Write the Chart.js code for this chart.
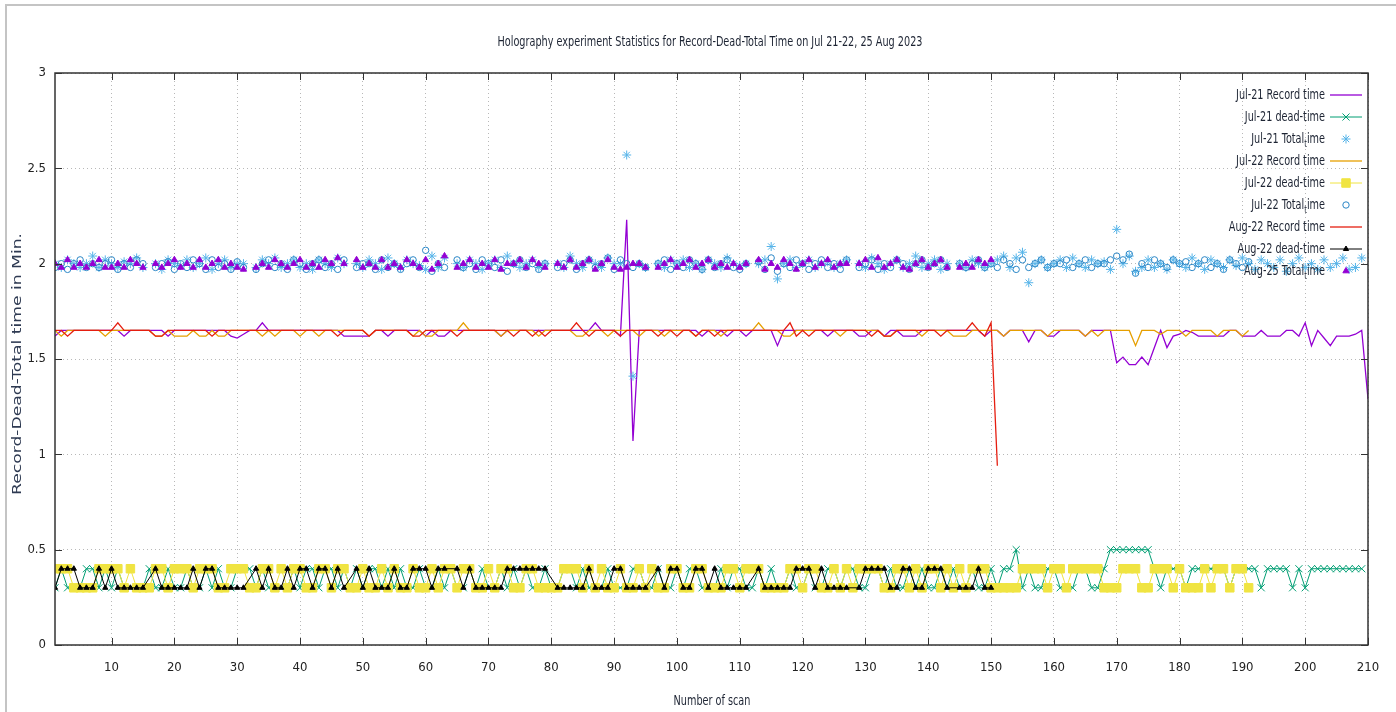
<!DOCTYPE html>
<html>
<head>
<meta charset="utf-8">
<title>Holography experiment Statistics</title>
<script src="https://cdn.jsdelivr.net/npm/chart.js@4.4.0/dist/chart.umd.min.js"></script>
<style>
  html, body { margin: 0; padding: 0; background: #fff; }
  canvas { display: block; }
</style>
</head>
<body>
<canvas id="grafico" width="1396" height="712"></canvas>
<script>
// ---- dados (x = número do scan, começando em 1) ----
const seriesLabels = [
  "Jul-21 Record time", "Jul-21 dead-time", "Jul-21 Total_time",
  "Jul-22 Record time", "Jul-22 dead-time", "Jul-22 Total_time",
  "Aug-22 Record time", "Aug-22 dead-time", "Aug-25 Total_time"
];

const jul21Record = [
  1.62,1.65,1.65,1.65,1.65,1.65,1.65,1.65,1.65,1.65,
  1.65,1.62,1.65,1.65,1.65,1.65,1.65,1.65,1.62,1.65,
  1.65,1.65,1.65,1.65,1.65,1.65,1.65,1.65,1.62,1.61,
  1.63,1.65,1.65,1.69,1.65,1.65,1.65,1.65,1.65,1.65,
  1.65,1.65,1.65,1.65,1.65,1.65,1.62,1.62,1.62,1.62,
  1.62,1.65,1.65,1.62,1.65,1.65,1.65,1.65,1.65,1.62,
  1.65,1.62,1.62,1.65,1.65,1.65,1.65,1.65,1.65,1.65,
  1.65,1.62,1.65,1.65,1.65,1.65,1.65,1.65,1.65,1.65,
  1.65,1.65,1.65,1.65,1.65,1.65,1.69,1.65,1.65,1.65,
  1.62,2.23,1.07,1.65,1.65,1.65,1.65,1.65,1.65,1.65,
  1.65,1.65,1.65,1.62,1.65,1.65,1.65,1.62,1.65,1.65,
  1.62,1.65,1.65,1.65,1.65,1.57,1.65,1.65,1.65,1.65,
  1.65,1.65,1.65,1.62,1.65,1.65,1.65,1.65,1.62,1.62,
  1.65,1.65,1.62,1.65,1.65,1.62,1.62,1.62,1.65,1.65,
  1.65,1.65,1.65,1.65,1.65,1.65,1.65,1.65,1.62,1.65,
  1.65,1.62,1.65,1.65,1.65,1.59,1.65,1.65,1.62,1.62,
  1.65,1.65,1.65,1.65,1.62,1.65,1.65,1.65,1.65,1.48,
  1.51,1.47,1.47,1.51,1.47,1.56,1.65,1.56,1.62,1.63,
  1.65,1.64,1.62,1.62,1.62,1.62,1.62,1.65,1.65,1.62,
  1.62,1.62,1.65,1.62,1.62,1.62,1.65,1.65,1.62,1.69,
  1.57,1.65,1.61,1.57,1.62,1.62,1.62,1.63,1.65,1.29
];

const jul21Dead = [
  0.3,0.4,0.3,0.3,0.3,0.4,0.4,0.3,0.4,0.3,
  0.4,0.3,0.3,0.3,0.3,0.4,0.3,0.3,0.4,0.3,
  0.3,0.4,0.3,0.3,0.4,0.3,0.4,0.3,0.3,0.4,
  0.4,0.4,0.3,0.4,0.3,0.3,0.3,0.3,0.4,0.3,
  0.4,0.4,0.3,0.4,0.4,0.3,0.4,0.3,0.4,0.3,
  0.4,0.4,0.3,0.4,0.3,0.4,0.3,0.3,0.4,0.3,
  0.3,0.4,0.3,0.4,0.3,0.3,0.4,0.3,0.4,0.3,
  0.3,0.4,0.3,0.4,0.3,0.4,0.3,0.3,0.4,0.3,
  0.3,0.4,0.4,0.3,0.4,0.3,0.3,0.3,0.4,0.3,
  0.3,0.3,0.4,0.4,0.3,0.3,0.4,0.3,0.3,0.4,
  0.3,0.4,0.4,0.3,0.3,0.3,0.4,0.3,0.4,0.4,
  0.3,0.3,0.4,0.3,0.4,0.3,0.3,0.4,0.3,0.3,
  0.4,0.3,0.3,0.4,0.4,0.3,0.4,0.4,0.3,0.3,
  0.4,0.4,0.3,0.4,0.3,0.3,0.4,0.3,0.4,0.3,
  0.3,0.4,0.3,0.4,0.3,0.3,0.4,0.3,0.3,0.4,
  0.3,0.4,0.4,0.5,0.3,0.4,0.3,0.3,0.4,0.4,
  0.3,0.3,0.3,0.4,0.4,0.3,0.3,0.4,0.5,0.5,
  0.5,0.5,0.5,0.5,0.5,0.4,0.3,0.4,0.4,0.4,
  0.3,0.4,0.4,0.4,0.4,0.4,0.4,0.3,0.4,0.4,
  0.4,0.4,0.3,0.4,0.4,0.4,0.4,0.3,0.4,0.3,
  0.4,0.4,0.4,0.4,0.4,0.4,0.4,0.4,0.4
];

const jul21Total = [
  2.0,1.98,2.02,2.0,1.98,2.0,2.04,1.98,2.02,2.0,
  1.98,2.01,2.0,2.03,1.98,null,2.0,1.97,2.02,2.0,
  1.99,2.02,1.98,2.0,2.03,1.97,2.0,2.02,1.98,2.0,
  2.0,null,1.98,2.02,2.0,2.03,1.98,2.0,2.02,1.98,
  2.0,1.97,2.02,2.0,1.98,2.03,2.0,null,2.0,1.98,
  2.02,2.0,1.97,2.03,2.0,1.98,2.02,2.0,1.99,1.97,
  2.04,1.98,2.03,null,2.0,1.98,2.02,2.0,1.97,2.0,
  2.02,1.98,2.04,2.0,1.98,2.0,2.02,1.98,2.0,null,
  2.0,1.98,2.04,2.0,1.98,2.02,2.0,1.98,2.03,2.0,
  2.0,2.57,1.41,2.0,1.98,null,2.0,1.98,2.02,2.0,
  2.02,1.98,2.0,1.97,2.02,2.0,1.98,2.03,2.0,1.99,
  2.0,null,2.0,2.02,2.09,1.92,2.0,2.02,1.98,2.0,
  2.02,1.98,2.0,2.01,1.98,2.0,2.02,null,2.0,1.98,
  2.03,2.0,1.97,2.0,2.02,1.98,2.0,2.04,1.98,2.0,
  2.02,1.97,2.0,null,2.0,1.98,2.02,2.0,1.98,2.0,
  2.02,2.04,1.98,2.03,2.06,1.90,2.0,2.02,1.98,2.0,
  2.02,1.98,2.03,2.0,1.98,2.02,2.0,2.01,1.97,2.18,
  2.0,2.04,1.96,1.98,2.02,1.98,2.0,1.97,2.02,2.0,
  1.98,2.03,2.0,1.97,2.02,2.0,1.98,2.02,1.99,2.03,
  2.0,1.97,2.02,2.0,1.98,2.02,1.96,2.0,2.03,1.98,
  2.0,1.97,2.02,1.98,2.0,2.03,1.97,1.98,2.03
];

const jul22Record = [
  1.65,1.62,1.65,1.65,1.65,1.65,1.65,1.65,1.62,1.65,
  1.65,1.65,1.65,1.65,1.65,1.65,1.62,1.62,1.65,1.62,
  1.62,1.62,1.65,1.62,1.62,1.65,1.62,1.62,1.65,1.65,
  1.65,1.65,1.65,1.62,1.65,1.62,1.65,1.65,1.65,1.62,
  1.65,1.65,1.62,1.65,1.65,1.65,1.65,1.65,1.65,1.65,
  1.62,1.65,1.65,1.65,1.65,1.65,1.65,1.62,1.65,1.62,
  1.62,1.65,1.65,1.65,1.65,1.69,1.65,1.65,1.65,1.65,
  1.65,1.62,1.65,1.65,1.65,1.65,1.65,1.62,1.65,1.65,
  1.65,1.65,1.65,1.62,1.62,1.65,1.65,1.65,1.62,1.65,
  1.65,1.65,1.65,1.62,1.65,1.65,1.65,1.62,1.65,1.65,
  1.65,1.65,1.62,1.65,1.65,1.65,1.62,1.65,1.65,1.65,
  1.65,1.65,1.69,1.65,1.65,1.65,1.62,1.62,1.65,1.65,
  1.65,1.65,1.65,1.65,1.65,1.62,1.65,1.65,1.65,1.65,
  1.65,1.65,1.62,1.62,1.65,1.65,1.65,1.65,1.62,1.65,
  1.65,1.65,1.65,1.62,1.62,1.62,1.65,1.65,1.65,1.65,
  1.65,1.62,1.65,1.65,1.65,1.65,1.65,1.65,1.62,1.65,
  1.65,1.65,1.65,1.65,1.62,1.65,1.62,1.65,1.65,1.65,
  1.65,1.65,1.57,1.65,1.65,1.65,1.63,1.65,1.65,1.65,
  1.62,1.65,1.65,1.65,1.65,1.62,1.65,1.65,1.65,1.62,
  1.65
];

const jul22Dead = [
  0.4,0.4,0.4,0.3,0.3,0.3,0.3,0.4,0.4,0.4,
  0.4,0.3,0.4,0.3,0.3,0.3,0.4,0.4,0.3,0.4,
  0.4,0.4,0.3,0.4,0.4,0.4,0.3,0.3,0.4,0.4,
  0.4,0.3,0.3,0.4,0.4,0.3,0.4,0.3,0.4,0.4,
  0.3,0.3,0.4,0.4,0.3,0.4,0.4,0.3,0.3,0.4,
  0.3,0.3,0.4,0.3,0.4,0.3,0.3,0.4,0.3,0.3,
  0.4,0.3,0.4,0.4,0.3,0.4,0.4,0.3,0.3,0.4,
  0.3,0.4,0.4,0.3,0.3,0.4,0.4,0.3,0.3,0.3,
  0.3,0.4,0.4,0.4,0.3,0.4,0.3,0.4,0.3,0.3,
  0.4,0.3,0.3,0.4,0.3,0.4,0.3,0.3,0.4,0.4,
  0.3,0.3,0.4,0.4,0.3,0.3,0.3,0.4,0.4,0.3,
  0.4,0.4,0.4,0.3,0.3,0.3,0.3,0.4,0.4,0.3,
  0.4,0.4,0.3,0.3,0.4,0.3,0.4,0.3,0.4,0.4,
  0.4,0.4,0.3,0.3,0.4,0.4,0.3,0.4,0.3,0.4,
  0.4,0.3,0.4,0.3,0.4,0.3,0.4,0.4,0.4,0.3,
  0.3,0.3,0.3,0.3,0.4,0.4,0.4,0.4,0.3,0.4,
  0.4,0.3,0.4,0.4,0.4,0.4,0.4,0.3,0.3,0.3,
  0.4,0.4,0.4,0.3,0.3,0.4,0.4,0.4,0.3,0.4,
  0.3,0.3,0.3,0.4,0.3,0.4,0.4,0.3,0.4,0.4,
  0.3
];

const jul22Total = [
  1.98,2.0,1.97,2.0,2.02,1.98,2.0,1.98,2.0,2.02,
  1.97,2.0,1.98,2.02,2.0,null,1.98,2.0,2.01,1.97,
  2.0,1.98,2.02,2.0,1.97,2.02,1.98,2.0,1.97,2.01,
  1.98,null,1.97,2.0,2.02,1.98,2.0,1.97,2.02,2.0,
  1.97,2.0,2.02,1.98,2.0,1.97,2.02,null,1.98,2.0,
  2.0,1.97,2.02,1.98,2.0,1.97,2.0,2.02,1.98,2.07,
  1.96,2.0,1.98,null,2.02,1.98,2.0,1.97,2.02,2.0,
  1.98,2.02,1.96,2.0,2.02,1.98,2.0,1.97,2.0,null,
  1.98,2.0,2.02,1.97,2.0,2.02,1.98,2.0,2.03,1.97,
  2.02,2.0,1.98,2.0,1.98,null,2.0,2.02,1.97,2.0,
  1.98,2.02,2.0,1.97,2.02,1.98,2.0,2.02,1.98,1.97,
  2.0,null,2.01,1.97,2.03,1.96,2.0,1.98,2.02,2.0,
  1.97,2.0,2.02,1.98,2.0,1.97,2.02,null,1.98,2.0,
  2.02,1.97,2.0,1.98,2.02,2.0,1.97,2.0,2.02,1.98,
  2.0,2.02,1.98,null,2.0,1.98,2.0,2.02,1.98,2.0,
  1.98,2.02,2.0,1.97,2.02,1.98,2.0,2.02,1.98,2.0,
  2.0,2.02,1.98,2.0,2.02,1.98,2.0,2.0,2.02,2.04,
  2.02,2.05,1.95,2.0,1.98,2.02,2.0,1.98,2.02,2.0,
  2.01,1.98,2.0,2.02,1.98,2.0,1.97,2.02,2.0,1.98,
  2.01
];

const aug22Record = [
  1.65,1.65,1.62,1.65,1.65,1.65,1.65,1.65,1.65,1.65,
  1.69,1.65,1.65,1.65,1.65,1.65,1.62,1.62,1.65,1.65,
  1.65,1.65,1.65,1.65,1.65,1.62,1.65,1.65,1.65,1.65,
  1.65,1.65,1.65,1.65,1.65,1.65,1.65,1.65,1.65,1.65,
  1.65,1.65,1.65,1.65,1.65,1.62,1.65,1.65,1.65,1.65,
  1.62,1.65,1.65,1.65,1.65,1.65,1.65,1.62,1.62,1.65,
  1.65,1.65,1.65,1.65,1.62,1.65,1.65,1.65,1.65,1.65,
  1.65,1.65,1.65,1.62,1.65,1.65,1.62,1.65,1.62,1.65,
  1.65,1.65,1.65,1.69,1.65,1.62,1.65,1.65,1.65,1.65,
  1.62,1.65,1.65,1.65,1.65,1.65,1.62,1.65,1.65,1.62,
  1.65,1.65,1.62,1.65,1.65,1.62,1.65,1.65,1.65,1.65,
  1.65,1.65,1.65,1.65,1.65,1.65,1.65,1.69,1.62,1.65,
  1.62,1.65,1.65,1.65,1.65,1.65,1.65,1.65,1.65,1.65,
  1.62,1.65,1.62,1.62,1.65,1.65,1.65,1.65,1.65,1.65,
  1.65,1.62,1.65,1.65,1.65,1.65,1.69,1.65,1.62,1.69,
  0.94
];

const aug22Dead = [
  0.3,0.4,0.4,0.4,0.3,0.3,0.3,0.4,0.3,0.4,
  0.3,0.3,0.3,0.3,0.3,null,0.4,0.3,0.3,0.3,
  0.3,0.3,0.4,0.3,0.4,0.4,0.3,0.3,0.3,0.3,
  0.3,null,0.4,0.3,0.4,0.3,0.3,0.4,0.3,0.4,
  0.4,0.3,0.4,0.4,0.3,0.4,0.3,null,0.4,0.3,
  0.4,0.3,0.3,0.3,0.4,0.3,0.3,0.4,0.4,0.4,
  0.3,0.4,0.4,null,0.4,0.3,0.4,0.3,0.3,0.3,
  0.3,0.3,0.4,0.4,0.4,0.4,0.4,0.4,0.4,null,
  0.3,0.3,0.3,0.3,0.3,0.4,0.3,0.3,0.3,0.4,
  0.4,0.3,0.3,0.3,0.3,null,0.4,0.3,0.4,0.4,
  0.3,0.3,0.4,0.4,0.3,0.4,0.3,0.3,0.3,0.3,
  0.3,null,0.4,0.3,0.3,0.3,0.3,0.3,0.4,0.4,
  0.4,0.3,0.4,0.3,0.3,0.3,0.3,null,0.3,0.4,
  0.4,0.4,0.4,0.3,0.3,0.4,0.4,0.3,0.3,0.4,
  0.4,0.4,0.3,null,0.3,0.3,0.3,0.4,0.3,0.3
];

const aug25Total = [
  2.0,1.98,2.02,1.98,2.0,1.98,2.0,2.02,1.98,1.98,
  2.0,1.98,2.02,2.0,1.98,null,2.0,1.98,2.0,2.02,
  1.98,2.0,1.98,2.02,1.98,2.0,2.02,1.98,2.0,1.98,
  1.97,null,1.98,2.0,1.98,2.02,2.0,1.98,2.0,2.02,
  1.98,2.0,1.98,2.02,2.0,2.03,2.0,null,2.02,1.98,
  2.0,1.98,2.02,1.98,2.0,1.98,2.02,2.0,1.98,2.02,
  1.97,2.0,2.04,null,1.98,2.0,2.02,1.98,2.0,1.98,
  2.02,1.97,2.0,2.0,2.02,1.98,2.02,2.0,1.98,null,
  2.0,1.98,2.02,1.98,2.0,2.02,1.97,2.0,2.02,1.98,
  1.97,1.98,2.0,2.0,1.98,null,1.98,2.0,2.02,1.98,
  2.0,2.02,1.98,2.0,2.02,1.98,2.0,1.98,2.0,1.98,
  2.0,null,2.02,1.97,2.0,1.98,2.02,2.0,1.97,2.0,
  2.02,1.98,2.0,2.02,1.98,2.0,2.0,null,2.0,2.02,
  1.98,2.03,1.98,2.0,2.02,1.98,1.97,2.0,2.02,1.98,
  2.0,2.02,1.98,null,1.98,2.0,1.98,2.02,2.0,2.02
];

const xTicks = [10,20,30,40,50,60,70,80,90,100,110,120,130,140,150,160,170,180,190,200,210];
const yTicks = [0,0.5,1,1.5,2,2.5,3];

const tituloGrafico = "Holography experiment Statistics for Record-Dead-Total Time on Jul 21-22, 25 Aug 2023";
const tituloX = "Number of scan";
const tituloY = "Record-Dead-Total time in Min.";

// ---- estilo ----
const NARROW = "'Liberation Sans Narrow', 'DejaVu Sans Condensed', sans-serif";
const COR_TEXTO = "#1d2433";

function pontos(arr) {
  return arr.map((v, i) => ({ x: i + 1, y: v }));
}

function linha(label, dados, cor, largura) {
  return {
    label: label, data: pontos(dados), showLine: true, spanGaps: true,
    borderColor: cor, backgroundColor: cor, borderWidth: largura,
    pointRadius: 0, pointHoverRadius: 0
  };
}

function marcada(label, dados, cor, estilo, raio, preenche) {
  return {
    label: label, data: pontos(dados), showLine: true, spanGaps: true,
    borderColor: cor, backgroundColor: preenche ? cor : "rgba(0,0,0,0)",
    borderWidth: 1, pointStyle: estilo, pointRadius: raio,
    pointBorderWidth: 1, pointHoverRadius: raio
  };
}

function soPontos(label, dados, cor, estilo, raio, preenche) {
  const d = marcada(label, dados, cor, estilo, raio, preenche);
  d.showLine = false;
  return d;
}

const datasets = [
  linha(seriesLabels[0], jul21Record, "#9400d3", 1.3),
  marcada(seriesLabels[1], jul21Dead, "#009e73", "crossRot", 5, false),
  soPontos(seriesLabels[2], jul21Total, "#56b4e9", "star", 4.5, false),
  linha(seriesLabels[3], jul22Record, "#e69f00", 1.3),
  marcada(seriesLabels[4], jul22Dead, "#f0e442", "rect", 6, true),
  soPontos(seriesLabels[5], jul22Total, "#2a86c6", "circle", 3.2, false),
  linha(seriesLabels[6], aug22Record, "#e51e10", 1.3),
  marcada(seriesLabels[7], aug22Dead, "#000000", "triangle", 3, true),
  soPontos(seriesLabels[8], aug25Total, "#9400d3", "triangle", 3.6, true)
];
// gnuplot desenha a última série por cima
datasets.forEach((d, i) => { d.order = datasets.length - i; });

// texto "achatado" horizontalmente, com subscrito depois de "_"
function partes(label) {
  const idx = label.indexOf("_");
  if (idx < 0) return [{ t: label, sub: false }];
  return [
    { t: label.slice(0, idx), sub: false },
    { t: label.charAt(idx + 1), sub: true },
    { t: label.slice(idx + 2), sub: false }
  ];
}

function textoEstreito(ctx, label, x, y, align, size, sx) {
  const segs = partes(label);
  let total = 0;
  segs.forEach((s) => {
    ctx.font = (s.sub ? size * 0.7 : size) + "px " + NARROW;
    s.w = ctx.measureText(s.t).width;
    total += s.w;
  });
  ctx.save();
  ctx.translate(x, y);
  ctx.scale(sx, 1);
  let cx = align === "right" ? -total : align === "center" ? -total / 2 : 0;
  ctx.textBaseline = "middle";
  ctx.textAlign = "left";
  segs.forEach((s) => {
    ctx.font = (s.sub ? size * 0.7 : size) + "px " + NARROW;
    ctx.fillText(s.t, cx, s.sub ? 5 : 0);
    cx += s.w;
  });
  ctx.restore();
}

const decoracao = {
  id: "decoracao",
  afterDraw(chart) {
    const ctx = chart.ctx;
    const a = chart.chartArea;
    const xs = chart.scales.x, ys = chart.scales.y;

    // moldura externa da imagem
    ctx.save();
    ctx.strokeStyle = "#c4c4c4";
    ctx.lineWidth = 2;
    ctx.beginPath();
    ctx.moveTo(6, 712); ctx.lineTo(6, 5); ctx.lineTo(1396, 5);
    ctx.stroke();

    // borda do gráfico e marcas internas
    ctx.strokeStyle = "#333";
    ctx.lineWidth = 1.5;
    ctx.strokeRect(a.left, a.top, a.right - a.left, a.bottom - a.top);
    ctx.lineWidth = 1;
    ctx.beginPath();
    xTicks.forEach((v) => {
      const px = Math.round(xs.getPixelForValue(v)) + 0.5;
      ctx.moveTo(px, a.bottom); ctx.lineTo(px, a.bottom - 7);
      ctx.moveTo(px, a.top); ctx.lineTo(px, a.top + 7);
    });
    yTicks.forEach((v) => {
      const py = Math.round(ys.getPixelForValue(v)) + 0.5;
      ctx.moveTo(a.left, py); ctx.lineTo(a.left + 7, py);
      ctx.moveTo(a.right, py); ctx.lineTo(a.right - 7, py);
    });
    ctx.stroke();
    ctx.restore();

    // títulos
    ctx.save();
    ctx.fillStyle = COR_TEXTO;
    ctx.font = "14px " + NARROW;
    const sx = 425 / ctx.measureText(tituloGrafico).width;
    textoEstreito(ctx, tituloGrafico, 710, 42, "center", 14, sx);
    textoEstreito(ctx, tituloX, 712, 701, "center", 14, sx);

    ctx.font = "13px 'DejaVu Sans'";
    const sy = 262 / ctx.measureText(tituloY).width;
    ctx.translate(18, 364);
    ctx.rotate(-Math.PI / 2);
    ctx.scale(sy, 1);
    ctx.textAlign = "center";
    ctx.textBaseline = "middle";
    ctx.fillStyle = "#2e3a52";
    ctx.fillText(tituloY, 0, 0);
    ctx.restore();

    // legenda no canto superior direito
    chart.data.datasets.forEach((ds, i) => {
      const y = 95 + i * 22;
      ctx.save();
      ctx.fillStyle = COR_TEXTO;
      textoEstreito(ctx, ds.label, 1325, y, "right", 14, sx);
      ctx.strokeStyle = ds.borderColor;
      ctx.fillStyle = ds.backgroundColor;
      if (ds.showLine) {
        ctx.lineWidth = ds.borderWidth;
        ctx.beginPath();
        ctx.moveTo(1330, y); ctx.lineTo(1362, y);
        ctx.stroke();
      }
      if (ds.pointRadius > 0) {
        ctx.lineWidth = 1;
        Chart.helpers.drawPoint(ctx, {
          pointStyle: ds.pointStyle, radius: ds.pointRadius,
          rotation: 0, borderWidth: 1
        }, 1346, y);
      }
      ctx.restore();
    });
  }
};

new Chart(document.getElementById("grafico"), {
  type: "scatter",
  data: { datasets: datasets },
  plugins: [decoracao],
  options: {
    responsive: false,
    animation: false,
    events: [],
    layout: { padding: { top: 73, right: 28, left: 0, bottom: 0 } },
    plugins: { legend: { display: false }, tooltip: { enabled: false } },
    scales: {
      x: {
        type: "linear", min: 1, max: 210,
        afterFit: (s) => { s.height = 67; },
        afterBuildTicks: (s) => { s.ticks = xTicks.map((v) => ({ value: v })); },
        grid: { color: "#b8b8b8", lineWidth: 1, drawTicks: false },
        border: { display: false, dash: [1, 3] },
        ticks: { padding: 15, color: "#222", maxRotation: 0, font: { family: NARROW, size: 13 } }
      },
      y: {
        type: "linear", min: 0, max: 3,
        afterFit: (s) => { s.width = 55; },
        afterBuildTicks: (s) => { s.ticks = yTicks.map((v) => ({ value: v })); },
        grid: { color: "#b8b8b8", lineWidth: 1, drawTicks: false },
        border: { display: false, dash: [1, 3] },
        ticks: {
          padding: 9, color: "#222", font: { family: NARROW, size: 13 },
          callback: (v) => String(v)
        }
      }
    }
  }
});
</script>
</body>
</html>
